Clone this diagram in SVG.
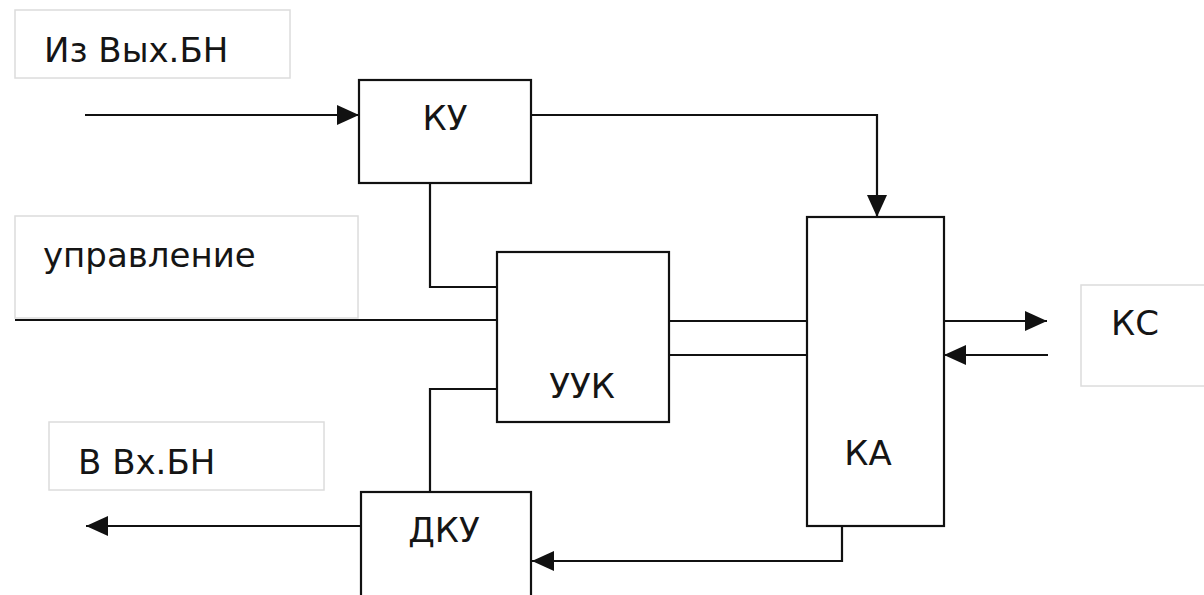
<svg xmlns="http://www.w3.org/2000/svg" width="1204" height="595" viewBox="0 0 1204 595">
  <style>
    .blk { fill: #ffffff; stroke: #111; stroke-width: 2.2; }
    .lbl { fill: #ffffff; stroke: #dcdcdc; stroke-width: 1.5; }
    .t { font-family: "DejaVu Sans", "Liberation Sans", sans-serif; font-size: 34px; fill: #151515; }
    .c { text-anchor: middle; }
    .w { fill: none; stroke: #111; stroke-width: 2.2; }
  </style>
  <defs>
    <marker id="ah" markerUnits="userSpaceOnUse" markerWidth="24" markerHeight="22" refX="22" refY="10" orient="auto">
      <path d="M0,0 L22,10 L0,20 Z" fill="#111"/>
    </marker>
  </defs>
  <rect width="1204" height="595" fill="#ffffff"/>

  <g id="label-iz">
    <rect class="lbl" x="15" y="10" width="275" height="68"/>
    <text class="t" x="44" y="62">Из Вых.БН</text>
  </g>
  <g id="label-upr">
    <rect class="lbl" x="15" y="216" width="343" height="102"/>
    <text class="t" x="43" y="267">управление</text>
  </g>
  <g id="label-v">
    <rect class="lbl" x="49" y="422" width="275" height="68"/>
    <text class="t" x="78" y="474">В Вх.БН</text>
  </g>
  <g id="label-ks">
    <rect class="lbl" x="1081" y="285" width="130" height="101"/>
    <text class="t" x="1111" y="335">КС</text>
  </g>

  <g id="connectors">
    <line class="w" x1="85" y1="115" x2="359" y2="115" marker-end="url(#ah)"/>
    <polyline class="w" points="531,115 877,115 877,217" marker-end="url(#ah)"/>
    <polyline class="w" points="430,183 430,287 497,287"/>
    <line class="w" x1="15" y1="320" x2="497" y2="320"/>
    <line class="w" x1="669" y1="321" x2="807" y2="321"/>
    <line class="w" x1="669" y1="355" x2="807" y2="355"/>
    <line class="w" x1="944" y1="321" x2="1047" y2="321" marker-end="url(#ah)"/>
    <line class="w" x1="1048" y1="355" x2="944" y2="355" marker-end="url(#ah)"/>
    <polyline class="w" points="497,389 430,389 430,492"/>
    <line class="w" x1="361" y1="526" x2="86" y2="526" marker-end="url(#ah)"/>
    <polyline class="w" points="842,526 842,561 532,561" marker-end="url(#ah)"/>
  </g>

  <g id="KU">
    <rect class="blk" x="359" y="80" width="172" height="103"/>
    <text class="t c" x="445" y="130">КУ</text>
  </g>
  <g id="UUK">
    <rect class="blk" x="497" y="252" width="172" height="170"/>
    <text class="t c" x="582" y="398">УУК</text>
  </g>
  <g id="KA">
    <rect class="blk" x="807" y="217" width="137" height="309"/>
    <text class="t c" x="868" y="465">КА</text>
  </g>
  <g id="DKU">
    <rect class="blk" x="361" y="492" width="170" height="110"/>
    <text class="t c" x="444" y="542">ДКУ</text>
  </g>
</svg>
